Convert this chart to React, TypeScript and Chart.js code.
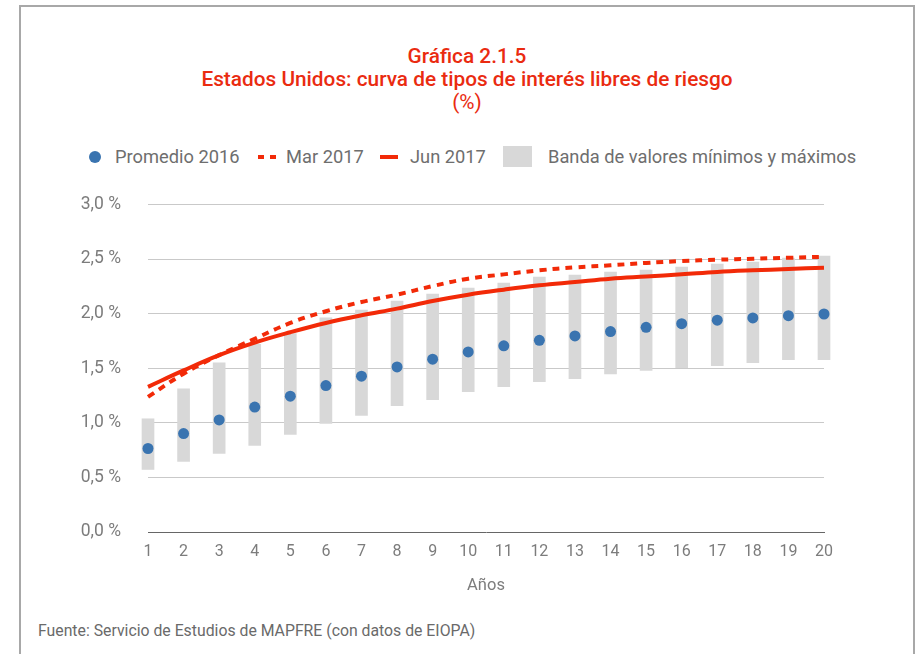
import React, { useEffect, useRef } from "react";
import { Chart, registerables } from "chart.js";

Chart.register(...registerables);

const years = ["1", "2", "3", "4", "5", "6", "7", "8", "9", "10", "11", "12", "13", "14", "15", "16", "17", "18", "19", "20"];
const promedio2016 = [0.765, 0.902, 1.027, 1.144, 1.244, 1.341, 1.427, 1.512, 1.583, 1.65, 1.705, 1.756, 1.796, 1.836, 1.875, 1.908, 1.94, 1.961, 1.982, 1.997];
const mar2017 = [1.238, 1.45, 1.62, 1.77, 1.915, 2.022, 2.107, 2.174, 2.253, 2.32, 2.36, 2.397, 2.424, 2.443, 2.465, 2.482, 2.494, 2.503, 2.512, 2.521];
const jun2017 = [1.33, 1.48, 1.62, 1.735, 1.83, 1.915, 1.985, 2.046, 2.116, 2.174, 2.22, 2.26, 2.29, 2.32, 2.34, 2.36, 2.382, 2.397, 2.409, 2.421];
const bandMin = [0.573, 0.646, 0.719, 0.792, 0.893, 0.994, 1.067, 1.158, 1.213, 1.286, 1.332, 1.378, 1.405, 1.448, 1.479, 1.506, 1.524, 1.552, 1.579, 1.579];
const bandMax = [1.037, 1.311, 1.549, 1.72, 1.817, 1.961, 2.034, 2.116, 2.18, 2.235, 2.281, 2.336, 2.354, 2.381, 2.4, 2.427, 2.455, 2.473, 2.51, 2.528];
const yTicks = [0, 0.5, 1, 1.5, 2, 2.5, 3];

const titleLines = ["Gráfica 2.1.5", "Estados Unidos: curva de tipos de interés libres de riesgo", "(%)"];
const legendLabels = ["Promedio 2016", "Mar 2017", "Jun 2017", "Banda de valores mínimos y máximos"];
const xTitle = "Años";
const source = "Fuente: Servicio de Estudios de MAPFRE (con datos de EIOPA)";

const FONT = "Roboto, 'Noto Sans', 'DejaVu Sans', sans-serif";
const RED = "#f22a08";
const TITLE_RED = "#ea2b10";
const BLUE = "#3a74b0";
const GRAY_BAR = "#d8d8d8";
const TEXT_GRAY = "#7c7c7c";

export default function App() {
  const canvasRef = useRef<HTMLCanvasElement | null>(null);

  useEffect(() => {
    const canvas = canvasRef.current;
    if (!canvas) return;
    const chart = new Chart(canvas, {
      type: "bar",
      data: {
        labels: years,
        datasets: [
          {
            type: "line",
            label: legendLabels[2],
            data: jun2017,
            borderColor: RED,
            backgroundColor: RED,
            borderWidth: 4,
            pointRadius: 0,
            tension: 0.4,
            fill: false,
            order: 0,
            clip: false,
          } as any,
          {
            type: "line",
            label: legendLabels[1],
            data: mar2017,
            borderColor: RED,
            backgroundColor: RED,
            borderWidth: 4,
            borderDash: [7, 6],
            pointRadius: 0,
            tension: 0.4,
            fill: false,
            order: 1,
            clip: false,
          } as any,
          {
            type: "line",
            label: legendLabels[0],
            data: promedio2016,
            showLine: false,
            pointRadius: 5.5,
            pointBorderWidth: 0,
            pointBackgroundColor: BLUE,
            pointBorderColor: BLUE,
            order: 2,
            clip: false,
          } as any,
          {
            type: "bar",
            label: legendLabels[3],
            data: bandMin.map((v, i) => [v, bandMax[i]]),
            backgroundColor: GRAY_BAR,
            borderWidth: 0,
            barThickness: 12,
            order: 3,
            clip: false,
          } as any,
        ],
      },
      options: {
        responsive: false,
        animation: false,
        devicePixelRatio: 1,
        layout: { padding: { top: 17, right: 95, left: 0, bottom: 0 } },
        plugins: {
          legend: { display: false },
          tooltip: { enabled: false },
          title: { display: false },
        },
        scales: {
          x: {
            type: "category",
            offset: false,
            grid: { display: false, drawTicks: false },
            border: { display: true, color: "#666", dash: [1, 1], width: 1 },
            ticks: {
              color: TEXT_GRAY,
              font: { family: FONT, size: 16 },
              padding: 10,
              maxRotation: 0,
              autoSkip: false,
            },
            title: {
              display: true,
              text: xTitle,
              color: TEXT_GRAY,
              font: { family: FONT, size: 16.5 },
              padding: { top: 0, bottom: 6 },
            },
            afterFit: (s: any) => {
              s.height = 70;
            },
          },
          y: {
            min: 0,
            max: 3,
            afterBuildTicks: (s: any) => {
              s.ticks = yTicks.map((v) => ({ value: v }));
            },
            grid: {
              drawTicks: false,
              color: (ctx: any) => (ctx.tick && ctx.tick.value === 0 ? "rgba(0,0,0,0)" : "#c9c9c9"),
              lineWidth: 1,
            },
            border: { display: false },
            ticks: {
              color: TEXT_GRAY,
              font: { family: FONT, size: 17.5 },
              padding: 27,
              callback: (v: any) => Number(v).toFixed(1).replace(".", ",") + " %",
            },
            afterFit: (s: any) => {
              s.width = 148;
            },
          },
        },
      } as any,
    });
    return () => chart.destroy();
  }, []);

  const legendText: React.CSSProperties = {
    position: "absolute",
    top: 144,
    fontSize: 18.3,
    color: "#6e6e6e",
    lineHeight: "26px",
    whiteSpace: "nowrap",
  };

  return (
    <div
      style={{
        position: "fixed",
        left: 0,
        top: 0,
        width: 919,
        height: 654,
        background: "#fff",
        overflow: "hidden",
        fontFamily: FONT,
      }}
    >
      <div
        style={{
          position: "absolute",
          left: 19,
          top: 5,
          width: 892,
          height: 700,
          border: "2px solid #a8a8a8",
          borderBottom: "none",
        }}
      />
      {titleLines.map((t, i) => (
        <div
          key={i}
          style={{
            position: "absolute",
            left: 21,
            width: 892,
            top: 43 + i * 23,
            textAlign: "center",
            color: TITLE_RED,
            fontSize: 20.8,
            fontWeight: i < 2 ? 500 : 400,
            lineHeight: "26px",
            whiteSpace: "nowrap",
          }}
        >
          {t}
        </div>
      ))}

      <div style={{ position: "absolute", left: 89, top: 151, width: 12, height: 12, borderRadius: "50%", background: BLUE }} />
      <div style={{ ...legendText, left: 115 }}>{legendLabels[0]}</div>
      <div style={{ position: "absolute", left: 258, top: 155, width: 6, height: 4, background: RED }} />
      <div style={{ position: "absolute", left: 270, top: 155, width: 6, height: 4, background: RED }} />
      <div style={{ ...legendText, left: 286 }}>{legendLabels[1]}</div>
      <div style={{ position: "absolute", left: 380, top: 155, width: 18, height: 4, background: RED }} />
      <div style={{ ...legendText, left: 410 }}>{legendLabels[2]}</div>
      <div style={{ position: "absolute", left: 503, top: 146, width: 29, height: 21, background: GRAY_BAR }} />
      <div style={{ ...legendText, left: 548 }}>{legendLabels[3]}</div>

      <div style={{ position: "absolute", left: 0, top: 167, width: 919, height: 435 }}>
        <canvas ref={canvasRef} width={919} height={435} style={{ display: "block", width: 919, height: 435 }} />
      </div>

      <div
        style={{
          position: "absolute",
          left: 38,
          top: 620,
          fontSize: 15.8,
          color: "#6a6a6a",
          lineHeight: "22px",
          whiteSpace: "nowrap",
        }}
      >
        {source}
      </div>
    </div>
  );
}
